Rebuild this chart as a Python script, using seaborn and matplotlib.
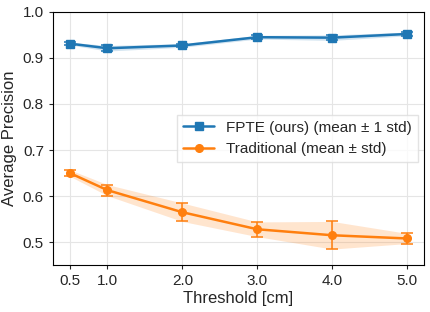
import numpy as np
import seaborn as sns
import matplotlib
matplotlib.use("Agg")
import matplotlib.pyplot as plt
from matplotlib.lines import Line2D

thresholds = [0.5, 1.0, 2.0, 3.0, 4.0, 5.0]
fpte_mean = [0.931, 0.921, 0.927, 0.945, 0.944, 0.952]
fpte_std = [0.003, 0.006, 0.004, 0.004, 0.006, 0.004]
trad_mean = [0.650, 0.613, 0.565, 0.528, 0.515, 0.508]
trad_std = [0.007, 0.012, 0.020, 0.016, 0.030, 0.011]

sns.set_style("whitegrid")
plt.rcParams['font.family'] = ['Liberation Sans', 'DejaVu Sans']

fig, ax = plt.subplots(figsize=(4.31, 3.12), dpi=100)

blue = sns.color_palette()[0]
orange = sns.color_palette()[1]

handles = []
for mean, std, color, marker, label in [
    (fpte_mean, fpte_std, blue, 's', 'FPTE (ours) (mean ± 1 std)'),
    (trad_mean, trad_std, orange, 'o', 'Traditional (mean ± std)'),
]:
    m = np.array(mean)
    s = np.array(std)
    ax.fill_between(thresholds, m - s, m + s, color=color, alpha=0.2, lw=0)
    ax.errorbar(thresholds, m, yerr=s, color=color, marker=marker, markersize=5.5,
                lw=1.8, capsize=4, capthick=1.1, elinewidth=1.1)
    handles.append(Line2D([0], [0], color=color, marker=marker, markersize=5.5,
                          lw=1.8, label=label))

ax.set_xticks(thresholds)
ax.set_xticklabels([f"{t:.1f}" for t in thresholds])
ax.set_ylim(0.45, 1.0)
ax.set_yticks([0.5, 0.6, 0.7, 0.8, 0.9, 1.0])
ax.tick_params(labelsize=11, length=3, left=True, bottom=True)
ax.set_xlabel('Threshold [cm]', fontsize=12, labelpad=2)
ax.set_ylabel('Average Precision', fontsize=12)
ax.grid(True, color='#e5e5e5', lw=0.8)
for sp in ax.spines.values():
    sp.set_color('black')
    sp.set_linewidth(0.8)
ax.legend(handles=handles, loc='center right', fontsize=11, frameon=True,
          handlelength=2, borderaxespad=0.4, fancybox=False, edgecolor='#dddddd')

fig.subplots_adjust(left=0.123, right=0.984, top=0.962, bottom=0.15)
fig.savefig('out.png', dpi=100)
